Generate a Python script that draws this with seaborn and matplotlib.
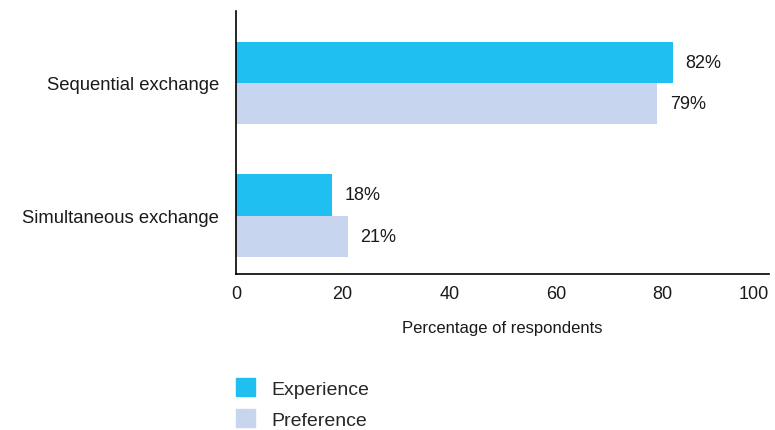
import numpy as np
import pandas as pd
import seaborn as sns
import matplotlib.pyplot as plt


categories = ["Sequential exchange", "Simultaneous exchange"]
series = ["Experience", "Preference"]
experience = [82, 18]
preference = [79, 21]

colors = {"Experience": "#1fbff1", "Preference": "#c8d5ee"}

df = pd.DataFrame({
    "category": categories * 2,
    "series": [series[0]] * 2 + [series[1]] * 2,
    "value": experience + preference,
})

sns.set_theme(style="white")
plt.rcParams["font.family"] = ["Liberation Sans", "DejaVu Sans"]

fig = plt.figure(figsize=(7.75, 4.31), dpi=100)
ax = fig.add_axes([0.3045, 0.362, 0.688, 0.610])

sns.barplot(data=df, y="category", x="value", hue="series",
            palette=colors, width=0.62, orient="h", ax=ax,
            legend=False, saturation=1, errorbar=None, linewidth=0)

# 値ラベル
for cont in ax.containers:
    ax.bar_label(cont, labels=[f"{v:.0f}%" for v in cont.datavalues],
                 padding=9, fontsize=13, color="#1a1a1a")

ax.set_xlim(0, 100)
ax.set_ylim(1.44, -0.54)
ax.set_xticks([0, 20, 40, 60, 80, 100])
ax.set_xlabel("Percentage of respondents", fontsize=12, labelpad=13, color="#1a1a1a")
ax.set_ylabel("")
ax.tick_params(axis="x", length=0, pad=8, labelsize=13, labelcolor="#1a1a1a")
ax.tick_params(axis="y", length=0, pad=12, labelsize=13.3, labelcolor="#1a1a1a")
ax.get_xticklabels()[-1].set_horizontalalignment("right")

for side in ["top", "right"]:
    ax.spines[side].set_visible(False)
for side in ["left", "bottom"]:
    ax.spines[side].set_color("black")
    ax.spines[side].set_linewidth(1.2)

# 凡例
handles = [plt.Rectangle((0, 0), 1, 1, color=colors[s]) for s in series]
fig.legend(handles, series, loc="upper left", bbox_to_anchor=(0.304, 0.12),
           frameon=False, fontsize=14, handlelength=1.0, handleheight=1.0,
           handletextpad=0.85, labelspacing=0.6, borderpad=0, borderaxespad=0)

fig.savefig("out.png", dpi=100)
